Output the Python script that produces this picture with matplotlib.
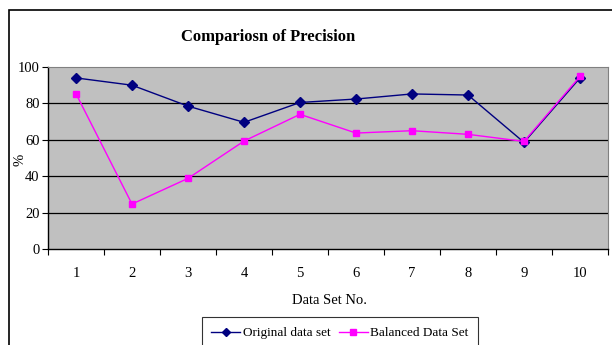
import numpy as np
import matplotlib.pyplot as plt
from matplotlib.patches import Rectangle

# ── Data ──────────────────────────────────────────────────────────────────────
data_sets = ["1", "2", "3", "4", "5", "6", "7", "8", "9", "10"]
original = [94.0, 90.0, 78.5, 69.6, 80.5, 82.4, 85.2, 84.6, 58.6, 94.0]
balanced = [85.3, 24.7, 38.8, 59.3, 74.0, 63.7, 65.0, 63.0, 59.1, 94.8]

plt.rcParams["font.family"] = ["Liberation Serif", "DejaVu Serif"]

W, H = 612, 345
fig = plt.figure(figsize=(W / 100, H / 100), dpi=100)

# plot area in pixels: left 48, right 608, top 67, bottom 249
ax = fig.add_axes([48 / W, 1 - 249 / H, (608 - 48) / W, (249 - 67) / H])
ax.set_facecolor("#C0C0C0")

x = np.arange(len(data_sets))
ax.plot(x, original, color="#000080", marker="D", markersize=5,
        linewidth=1.0, label="Original data set", zorder=3)
ax.plot(x, balanced, color="#FF00FF", marker="s", markersize=5,
        linewidth=1.0, label="Balanced Data Set", zorder=3)

ax.set_xlim(-0.5, len(data_sets) - 0.5)
ax.set_ylim(0, 100)
ax.set_yticks(range(0, 101, 20))
for v in range(20, 100, 20):
    ax.axhline(v, color="black", linewidth=0.9, zorder=1)

# category axis: ticks on boundaries, labels centred
ax.set_xticks(np.arange(-0.5, len(data_sets), 1.0))
ax.set_xticklabels([])
ax.set_xticks(x, minor=True)
ax.set_xticklabels(data_sets, minor=True)
ax.tick_params(axis="x", which="major", direction="out", length=4, width=0.8)
ax.tick_params(axis="x", which="minor", length=0, pad=13, labelsize=10.5)
ax.tick_params(axis="y", direction="out", length=4, width=0.8, labelsize=10.5, pad=2)

for side in ("top", "right"):
    ax.spines[side].set_color("#808080")
for side in ("left", "bottom"):
    ax.spines[side].set_color("black")
    ax.spines[side].set_linewidth(1.0)

fig.text(20 / W, 1 - 160 / H, "%", rotation=90, ha="center", va="center", fontsize=10.5)
fig.text(330 / W, 1 - 300 / H, "Data Set No.", ha="center", va="center", fontsize=10.5)
fig.text(268 / W, 1 - 37 / H, "Compariosn of Precision", ha="center", va="center",
         fontsize=12, fontweight="bold")

leg = fig.legend(loc="upper center", bbox_to_anchor=(340 / W, 1 - 317 / H), ncol=2,
                 frameon=True, fancybox=False, edgecolor="black", fontsize=9.5,
                 handlelength=2.2, handletextpad=0.2, columnspacing=0.6,
                 borderpad=0.75, borderaxespad=0, markerscale=0.8)
leg.get_frame().set_linewidth(0.8)

# outer chart border (cropped on right and bottom)
fig.patches.append(Rectangle((9 / W, -0.1), 1.2, 1 - 10 / H + 0.1,
                             transform=fig.transFigure, fill=False,
                             edgecolor="black", linewidth=1.2))

fig.savefig("out.png", dpi=100)
